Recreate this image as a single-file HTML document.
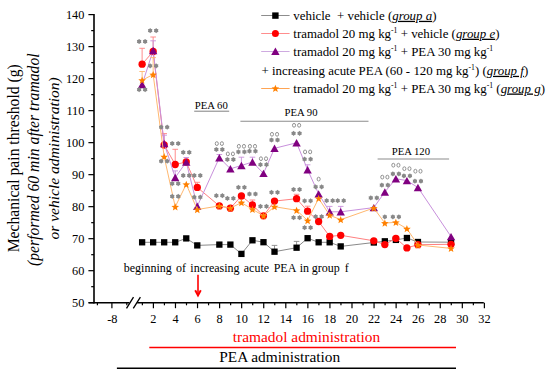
<!DOCTYPE html><html><head><meta charset="utf-8"><style>html,body{margin:0;padding:0;background:#fff;width:550px;height:376px;overflow:hidden}svg{display:block}</style></head><body>
<svg width="550" height="376" viewBox="0 0 550 376" style="font-family:'Liberation Serif',serif">
<rect width="550" height="376" fill="#fff"/>
<path d="M94.0,14.01V303.5" stroke="#000" stroke-width="1.6" fill="none"/>
<path d="M88.6,302.7H129.5M137.2,302.7H483.8" stroke="#000" stroke-width="1.6" fill="none"/>
<path d="M126.5,308.4L133.5,297.2M133.3,308.4L140.4,297.2" stroke="#000" stroke-width="1.3" fill="none"/>
<path d="M88.4,302.70H94.0" stroke="#000" stroke-width="1.2"/>
<text x="84.4" y="307.00" font-size="12.3" text-anchor="end">50</text>
<path d="M88.4,270.69H94.0" stroke="#000" stroke-width="1.2"/>
<text x="84.4" y="274.99" font-size="12.3" text-anchor="end">60</text>
<path d="M88.4,238.68H94.0" stroke="#000" stroke-width="1.2"/>
<text x="84.4" y="242.98" font-size="12.3" text-anchor="end">70</text>
<path d="M88.4,206.67H94.0" stroke="#000" stroke-width="1.2"/>
<text x="84.4" y="210.97" font-size="12.3" text-anchor="end">80</text>
<path d="M88.4,174.66H94.0" stroke="#000" stroke-width="1.2"/>
<text x="84.4" y="178.96" font-size="12.3" text-anchor="end">90</text>
<path d="M88.4,142.65H94.0" stroke="#000" stroke-width="1.2"/>
<text x="84.4" y="146.95" font-size="12.3" text-anchor="end">100</text>
<path d="M88.4,110.64H94.0" stroke="#000" stroke-width="1.2"/>
<text x="84.4" y="114.94" font-size="12.3" text-anchor="end">110</text>
<path d="M88.4,78.63H94.0" stroke="#000" stroke-width="1.2"/>
<text x="84.4" y="82.93" font-size="12.3" text-anchor="end">120</text>
<path d="M88.4,46.62H94.0" stroke="#000" stroke-width="1.2"/>
<text x="84.4" y="50.92" font-size="12.3" text-anchor="end">130</text>
<path d="M88.4,14.61H94.0" stroke="#000" stroke-width="1.2"/>
<text x="84.4" y="18.91" font-size="12.3" text-anchor="end">140</text>
<path d="M91.2,286.69H94.0" stroke="#000" stroke-width="1.2"/>
<path d="M91.2,254.69H94.0" stroke="#000" stroke-width="1.2"/>
<path d="M91.2,222.67H94.0" stroke="#000" stroke-width="1.2"/>
<path d="M91.2,190.66H94.0" stroke="#000" stroke-width="1.2"/>
<path d="M91.2,158.65H94.0" stroke="#000" stroke-width="1.2"/>
<path d="M91.2,126.64H94.0" stroke="#000" stroke-width="1.2"/>
<path d="M91.2,94.63H94.0" stroke="#000" stroke-width="1.2"/>
<path d="M91.2,62.62H94.0" stroke="#000" stroke-width="1.2"/>
<path d="M91.2,30.62H94.0" stroke="#000" stroke-width="1.2"/>
<path d="M111.90,302.7V308.2" stroke="#000" stroke-width="1.2"/>
<path d="M153.40,302.7V308.2" stroke="#000" stroke-width="1.2"/>
<path d="M175.47,302.7V308.2" stroke="#000" stroke-width="1.2"/>
<path d="M197.53,302.7V308.2" stroke="#000" stroke-width="1.2"/>
<path d="M219.60,302.7V308.2" stroke="#000" stroke-width="1.2"/>
<path d="M241.66,302.7V308.2" stroke="#000" stroke-width="1.2"/>
<path d="M263.73,302.7V308.2" stroke="#000" stroke-width="1.2"/>
<path d="M285.80,302.7V308.2" stroke="#000" stroke-width="1.2"/>
<path d="M307.86,302.7V308.2" stroke="#000" stroke-width="1.2"/>
<path d="M329.93,302.7V308.2" stroke="#000" stroke-width="1.2"/>
<path d="M351.99,302.7V308.2" stroke="#000" stroke-width="1.2"/>
<path d="M374.06,302.7V308.2" stroke="#000" stroke-width="1.2"/>
<path d="M396.13,302.7V308.2" stroke="#000" stroke-width="1.2"/>
<path d="M418.19,302.7V308.2" stroke="#000" stroke-width="1.2"/>
<path d="M440.26,302.7V308.2" stroke="#000" stroke-width="1.2"/>
<path d="M462.32,302.7V308.2" stroke="#000" stroke-width="1.2"/>
<path d="M484.39,302.7V308.2" stroke="#000" stroke-width="1.2"/>
<path d="M97.40,302.7V305.3" stroke="#000" stroke-width="1.2"/>
<path d="M126.80,302.7V305.3" stroke="#000" stroke-width="1.2"/>
<path d="M142.37,302.7V305.3" stroke="#000" stroke-width="1.2"/>
<path d="M164.43,302.7V305.3" stroke="#000" stroke-width="1.2"/>
<path d="M186.50,302.7V305.3" stroke="#000" stroke-width="1.2"/>
<path d="M208.56,302.7V305.3" stroke="#000" stroke-width="1.2"/>
<path d="M230.63,302.7V305.3" stroke="#000" stroke-width="1.2"/>
<path d="M252.70,302.7V305.3" stroke="#000" stroke-width="1.2"/>
<path d="M274.76,302.7V305.3" stroke="#000" stroke-width="1.2"/>
<path d="M296.83,302.7V305.3" stroke="#000" stroke-width="1.2"/>
<path d="M318.89,302.7V305.3" stroke="#000" stroke-width="1.2"/>
<path d="M340.96,302.7V305.3" stroke="#000" stroke-width="1.2"/>
<path d="M363.03,302.7V305.3" stroke="#000" stroke-width="1.2"/>
<path d="M385.09,302.7V305.3" stroke="#000" stroke-width="1.2"/>
<path d="M407.16,302.7V305.3" stroke="#000" stroke-width="1.2"/>
<path d="M429.23,302.7V305.3" stroke="#000" stroke-width="1.2"/>
<path d="M451.29,302.7V305.3" stroke="#000" stroke-width="1.2"/>
<path d="M473.36,302.7V305.3" stroke="#000" stroke-width="1.2"/>
<text x="112.3" y="322.6" font-size="12.3" text-anchor="middle">-8</text>
<text x="153.40" y="322.6" font-size="12.3" text-anchor="middle">2</text>
<text x="175.47" y="322.6" font-size="12.3" text-anchor="middle">4</text>
<text x="197.53" y="322.6" font-size="12.3" text-anchor="middle">6</text>
<text x="219.60" y="322.6" font-size="12.3" text-anchor="middle">8</text>
<text x="241.66" y="322.6" font-size="12.3" text-anchor="middle">10</text>
<text x="263.73" y="322.6" font-size="12.3" text-anchor="middle">12</text>
<text x="285.80" y="322.6" font-size="12.3" text-anchor="middle">14</text>
<text x="307.86" y="322.6" font-size="12.3" text-anchor="middle">16</text>
<text x="329.93" y="322.6" font-size="12.3" text-anchor="middle">18</text>
<text x="351.99" y="322.6" font-size="12.3" text-anchor="middle">20</text>
<text x="374.06" y="322.6" font-size="12.3" text-anchor="middle">22</text>
<text x="396.13" y="322.6" font-size="12.3" text-anchor="middle">24</text>
<text x="418.19" y="322.6" font-size="12.3" text-anchor="middle">26</text>
<text x="440.26" y="322.6" font-size="12.3" text-anchor="middle">28</text>
<text x="462.32" y="322.6" font-size="12.3" text-anchor="middle">30</text>
<text x="484.39" y="322.6" font-size="12.3" text-anchor="middle">32</text>
<text transform="translate(19.1,158.3) rotate(-90)" font-size="15.65" text-anchor="middle">Mechanical pain threshold (g)</text>
<text transform="translate(38.8,159.7) rotate(-90)" font-size="15.69" font-style="italic" text-anchor="middle">(performed 60 min after tramadol</text>
<text transform="translate(58.7,158.4) rotate(-90)" font-size="15.55" font-style="italic" text-anchor="middle">or vehicle administration)</text>
<text x="194.8" y="108.7" font-size="10.7">PEA 60</text>
<path d="M194.2,111.2H229.2" stroke="#808080" stroke-width="1.0"/>
<text x="284.6" y="116.4" font-size="10.7">PEA 90</text>
<path d="M240.4,121.2H368.5" stroke="#8c8c8c" stroke-width="1.1"/>
<text x="391.7" y="154.7" font-size="10.7">PEA 120</text>
<path d="M377.6,159.0H449.1" stroke="#8c8c8c" stroke-width="1.1"/>
<polyline points="142.12,242.3 153.15,242.3 164.18,242.3 175.22,242.3 186.25,238.4 197.28,245.4 219.35,244.6 230.38,244.6 241.41,253.9 252.45,240.3 263.48,242.2 274.51,251.7 296.58,247.7 307.61,238.2 318.64,242.3 329.68,242.3 340.71,246.4 373.81,242.5 384.84,241.3 395.88,239.9 406.91,238.0 417.94,242.0 451.04,242.2" fill="none" stroke="#8a8a8a" stroke-width="1.0"/>
<path d="M274.51,251.70V245.40M271.71,245.40H277.31" stroke="#8a8a8a" stroke-width="0.9" fill="none"/>
<path d="M296.58,247.70V241.40M293.78,241.40H299.38" stroke="#8a8a8a" stroke-width="0.9" fill="none"/>
<rect x="138.97" y="239.15" width="6.3" height="6.3" fill="#000"/>
<rect x="150.00" y="239.15" width="6.3" height="6.3" fill="#000"/>
<rect x="161.03" y="239.15" width="6.3" height="6.3" fill="#000"/>
<rect x="172.07" y="239.15" width="6.3" height="6.3" fill="#000"/>
<rect x="183.10" y="235.25" width="6.3" height="6.3" fill="#000"/>
<rect x="194.13" y="242.25" width="6.3" height="6.3" fill="#000"/>
<rect x="216.20" y="241.45" width="6.3" height="6.3" fill="#000"/>
<rect x="227.23" y="241.45" width="6.3" height="6.3" fill="#000"/>
<rect x="238.26" y="250.75" width="6.3" height="6.3" fill="#000"/>
<rect x="249.30" y="237.15" width="6.3" height="6.3" fill="#000"/>
<rect x="260.33" y="239.05" width="6.3" height="6.3" fill="#000"/>
<rect x="271.36" y="248.55" width="6.3" height="6.3" fill="#000"/>
<rect x="293.43" y="244.55" width="6.3" height="6.3" fill="#000"/>
<rect x="304.46" y="235.05" width="6.3" height="6.3" fill="#000"/>
<rect x="315.50" y="239.15" width="6.3" height="6.3" fill="#000"/>
<rect x="326.53" y="239.15" width="6.3" height="6.3" fill="#000"/>
<rect x="337.56" y="243.25" width="6.3" height="6.3" fill="#000"/>
<rect x="370.66" y="239.35" width="6.3" height="6.3" fill="#000"/>
<rect x="381.69" y="238.15" width="6.3" height="6.3" fill="#000"/>
<rect x="392.73" y="236.75" width="6.3" height="6.3" fill="#000"/>
<rect x="403.76" y="234.85" width="6.3" height="6.3" fill="#000"/>
<rect x="414.79" y="238.85" width="6.3" height="6.3" fill="#000"/>
<rect x="447.89" y="239.05" width="6.3" height="6.3" fill="#000"/>
<polyline points="142.12,64.2 153.15,51.5 164.18,145.0 175.22,164.5 186.25,162.0 197.28,187.4 219.35,205.9 230.38,208.2 241.41,196.0 252.45,205.0 263.48,215.8 274.51,201.1 296.58,198.7 307.61,211.2 318.64,221.5 329.68,236.4 340.71,235.3 373.81,240.8 384.84,244.6 395.88,238.3 406.91,247.9 417.94,244.7 451.04,244.3" fill="none" stroke="#ff8080" stroke-width="1.0"/>
<path d="M142.12,64.20V48.30M139.32,48.30H144.92" stroke="#ff8080" stroke-width="0.9" fill="none"/>
<path d="M153.15,51.50V37.00M150.35,37.00H155.95" stroke="#ff8080" stroke-width="0.9" fill="none"/>
<path d="M164.18,145.00V133.60M161.38,133.60H166.98" stroke="#ff8080" stroke-width="0.9" fill="none"/>
<path d="M175.22,164.50V149.30M172.42,149.30H178.02" stroke="#ff8080" stroke-width="0.9" fill="none"/>
<path d="M197.28,187.40V182.30M194.48,182.30H200.08" stroke="#ff8080" stroke-width="0.9" fill="none"/>
<path d="M252.45,205.00V200.00M249.65,200.00H255.25" stroke="#ff8080" stroke-width="0.9" fill="none"/>
<path d="M296.58,198.70V194.30M293.78,194.30H299.38" stroke="#ff8080" stroke-width="0.9" fill="none"/>
<path d="M307.61,211.20V206.20M304.81,206.20H310.41" stroke="#ff8080" stroke-width="0.9" fill="none"/>
<circle cx="142.12" cy="64.20" r="3.65" fill="#ff0000"/>
<circle cx="153.15" cy="51.50" r="3.65" fill="#ff0000"/>
<circle cx="164.18" cy="145.00" r="3.65" fill="#ff0000"/>
<circle cx="175.22" cy="164.50" r="3.65" fill="#ff0000"/>
<circle cx="186.25" cy="162.00" r="3.65" fill="#ff0000"/>
<circle cx="197.28" cy="187.40" r="3.65" fill="#ff0000"/>
<circle cx="219.35" cy="205.90" r="3.65" fill="#ff0000"/>
<circle cx="230.38" cy="208.20" r="3.65" fill="#ff0000"/>
<circle cx="241.41" cy="196.00" r="3.65" fill="#ff0000"/>
<circle cx="252.45" cy="205.00" r="3.65" fill="#ff0000"/>
<circle cx="263.48" cy="215.80" r="3.65" fill="#ff0000"/>
<circle cx="274.51" cy="201.10" r="3.65" fill="#ff0000"/>
<circle cx="296.58" cy="198.70" r="3.65" fill="#ff0000"/>
<circle cx="307.61" cy="211.20" r="3.65" fill="#ff0000"/>
<circle cx="318.64" cy="221.50" r="3.65" fill="#ff0000"/>
<circle cx="329.68" cy="236.40" r="3.65" fill="#ff0000"/>
<circle cx="340.71" cy="235.30" r="3.65" fill="#ff0000"/>
<circle cx="373.81" cy="240.80" r="3.65" fill="#ff0000"/>
<circle cx="384.84" cy="244.60" r="3.65" fill="#ff0000"/>
<circle cx="395.88" cy="238.30" r="3.65" fill="#ff0000"/>
<circle cx="406.91" cy="247.90" r="3.65" fill="#ff0000"/>
<circle cx="417.94" cy="244.70" r="3.65" fill="#ff0000"/>
<circle cx="451.04" cy="244.30" r="3.65" fill="#ff0000"/>
<polyline points="142.12,84.5 153.15,50.5 164.18,143.5 175.22,177.5 186.25,162.0 197.28,206.3 219.35,157.7 230.38,168.8 241.41,165.5 252.45,162.0 263.48,173.4 274.51,148.3 296.58,142.8 307.61,169.8 318.64,193.9 329.68,211.8 340.71,211.8 373.81,207.6 384.84,192.0 395.88,178.7 406.91,180.6 417.94,187.5 451.04,236.6" fill="none" stroke="#c890dc" stroke-width="1.0"/>
<path d="M153.15,50.50V40.80M150.35,40.80H155.95" stroke="#c890dc" stroke-width="0.9" fill="none"/>
<path d="M164.18,143.50V135.20M161.38,135.20H166.98" stroke="#c890dc" stroke-width="0.9" fill="none"/>
<path d="M175.22,177.50V170.90M172.42,170.90H178.02" stroke="#c890dc" stroke-width="0.9" fill="none"/>
<path d="M186.25,162.00V157.50M183.45,157.50H189.05" stroke="#c890dc" stroke-width="0.9" fill="none"/>
<path d="M219.35,157.70V154.50M216.55,154.50H222.15" stroke="#c890dc" stroke-width="0.9" fill="none"/>
<path d="M241.41,165.50V157.20M238.61,157.20H244.21" stroke="#c890dc" stroke-width="0.9" fill="none"/>
<path d="M252.45,162.00V157.20M249.65,157.20H255.25" stroke="#c890dc" stroke-width="0.9" fill="none"/>
<path d="M307.61,169.80V164.80M304.81,164.80H310.41" stroke="#c890dc" stroke-width="0.9" fill="none"/>
<path d="M329.68,211.80V206.40M326.88,206.40H332.48" stroke="#c890dc" stroke-width="0.9" fill="none"/>
<path d="M340.71,211.80V206.40M337.91,206.40H343.51" stroke="#c890dc" stroke-width="0.9" fill="none"/>
<path d="M137.92,88.20 L146.32,88.20 L142.12,80.80 Z" fill="#800080"/>
<path d="M148.95,54.20 L157.35,54.20 L153.15,46.80 Z" fill="#800080"/>
<path d="M159.98,147.20 L168.38,147.20 L164.18,139.80 Z" fill="#800080"/>
<path d="M171.02,181.20 L179.42,181.20 L175.22,173.80 Z" fill="#800080"/>
<path d="M182.05,165.70 L190.45,165.70 L186.25,158.30 Z" fill="#800080"/>
<path d="M193.08,210.00 L201.48,210.00 L197.28,202.60 Z" fill="#800080"/>
<path d="M215.15,161.40 L223.55,161.40 L219.35,154.00 Z" fill="#800080"/>
<path d="M226.18,172.50 L234.58,172.50 L230.38,165.10 Z" fill="#800080"/>
<path d="M237.21,169.20 L245.61,169.20 L241.41,161.80 Z" fill="#800080"/>
<path d="M248.25,165.70 L256.65,165.70 L252.45,158.30 Z" fill="#800080"/>
<path d="M259.28,177.10 L267.68,177.10 L263.48,169.70 Z" fill="#800080"/>
<path d="M270.31,152.00 L278.71,152.00 L274.51,144.60 Z" fill="#800080"/>
<path d="M292.38,146.50 L300.78,146.50 L296.58,139.10 Z" fill="#800080"/>
<path d="M303.41,173.50 L311.81,173.50 L307.61,166.10 Z" fill="#800080"/>
<path d="M314.44,197.60 L322.84,197.60 L318.64,190.20 Z" fill="#800080"/>
<path d="M325.48,215.50 L333.88,215.50 L329.68,208.10 Z" fill="#800080"/>
<path d="M336.51,215.50 L344.91,215.50 L340.71,208.10 Z" fill="#800080"/>
<path d="M369.61,211.30 L378.01,211.30 L373.81,203.90 Z" fill="#800080"/>
<path d="M380.64,195.70 L389.04,195.70 L384.84,188.30 Z" fill="#800080"/>
<path d="M391.68,182.40 L400.08,182.40 L395.88,175.00 Z" fill="#800080"/>
<path d="M402.71,184.30 L411.11,184.30 L406.91,176.90 Z" fill="#800080"/>
<path d="M413.74,191.20 L422.14,191.20 L417.94,183.80 Z" fill="#800080"/>
<path d="M446.84,240.30 L455.24,240.30 L451.04,232.90 Z" fill="#800080"/>
<polyline points="142.12,80.2 153.15,74.5 164.18,156.7 175.22,206.8 186.25,184.3 197.28,209.5 219.35,205.9 230.38,208.2 241.41,202.6 252.45,209.3 263.48,215.8 274.51,206.7 296.58,210.3 307.61,220.5 318.64,198.4 329.68,215.2 340.71,219.7 373.81,208.0 384.84,223.1 395.88,222.3 406.91,228.7 417.94,245.0 451.04,248.4" fill="none" stroke="#ffb870" stroke-width="1.0"/>
<path d="M142.12,80.20V71.50M139.32,71.50H144.92" stroke="#ffb870" stroke-width="0.9" fill="none"/>
<path d="M153.15,74.50V57.60M150.35,57.60H155.95" stroke="#ffb870" stroke-width="0.9" fill="none"/>
<polygon points="142.12,76.60 143.15,79.18 145.92,79.36 143.78,81.14 144.47,83.84 142.12,82.35 139.77,83.84 140.45,81.14 138.31,79.36 141.09,79.18" fill="#ff8000"/>
<polygon points="153.15,70.90 154.18,73.48 156.95,73.66 154.81,75.44 155.50,78.14 153.15,76.65 150.80,78.14 151.49,75.44 149.35,73.66 152.12,73.48" fill="#ff8000"/>
<polygon points="164.18,153.10 165.21,155.68 167.99,155.86 165.85,157.64 166.53,160.34 164.18,158.85 161.83,160.34 162.52,157.64 160.38,155.86 163.15,155.68" fill="#ff8000"/>
<polygon points="175.22,203.20 176.24,205.78 179.02,205.96 176.88,207.74 177.57,210.44 175.22,208.95 172.86,210.44 173.55,207.74 171.41,205.96 174.19,205.78" fill="#ff8000"/>
<polygon points="186.25,180.70 187.28,183.28 190.05,183.46 187.91,185.24 188.60,187.94 186.25,186.45 183.90,187.94 184.58,185.24 182.44,183.46 185.22,183.28" fill="#ff8000"/>
<polygon points="197.28,205.90 198.31,208.48 201.09,208.66 198.95,210.44 199.63,213.14 197.28,211.65 194.93,213.14 195.62,210.44 193.48,208.66 196.25,208.48" fill="#ff8000"/>
<polygon points="219.35,202.30 220.38,204.88 223.15,205.06 221.01,206.84 221.70,209.54 219.35,208.05 217.00,209.54 217.68,206.84 215.54,205.06 218.32,204.88" fill="#ff8000"/>
<polygon points="230.38,204.60 231.41,207.18 234.19,207.36 232.05,209.14 232.73,211.84 230.38,210.35 228.03,211.84 228.72,209.14 226.58,207.36 229.35,207.18" fill="#ff8000"/>
<polygon points="241.41,199.00 242.44,201.58 245.22,201.76 243.08,203.54 243.77,206.24 241.41,204.75 239.06,206.24 239.75,203.54 237.61,201.76 240.39,201.58" fill="#ff8000"/>
<polygon points="252.45,205.70 253.48,208.28 256.25,208.46 254.11,210.24 254.80,212.94 252.45,211.45 250.10,212.94 250.78,210.24 248.64,208.46 251.42,208.28" fill="#ff8000"/>
<polygon points="263.48,212.20 264.51,214.78 267.28,214.96 265.14,216.74 265.83,219.44 263.48,217.95 261.13,219.44 261.82,216.74 259.68,214.96 262.45,214.78" fill="#ff8000"/>
<polygon points="274.51,203.10 275.54,205.68 278.32,205.86 276.18,207.64 276.86,210.34 274.51,208.85 272.16,210.34 272.85,207.64 270.71,205.86 273.48,205.68" fill="#ff8000"/>
<polygon points="296.58,206.70 297.61,209.28 300.38,209.46 298.24,211.24 298.93,213.94 296.58,212.45 294.23,213.94 294.91,211.24 292.77,209.46 295.55,209.28" fill="#ff8000"/>
<polygon points="307.61,216.90 308.64,219.48 311.42,219.66 309.28,221.44 309.96,224.14 307.61,222.65 305.26,224.14 305.95,221.44 303.81,219.66 306.58,219.48" fill="#ff8000"/>
<polygon points="318.64,194.80 319.67,197.38 322.45,197.56 320.31,199.34 321.00,202.04 318.64,200.55 316.29,202.04 316.98,199.34 314.84,197.56 317.62,197.38" fill="#ff8000"/>
<polygon points="329.68,211.60 330.71,214.18 333.48,214.36 331.34,216.14 332.03,218.84 329.68,217.35 327.33,218.84 328.01,216.14 325.87,214.36 328.65,214.18" fill="#ff8000"/>
<polygon points="340.71,216.10 341.74,218.68 344.52,218.86 342.38,220.64 343.06,223.34 340.71,221.85 338.36,223.34 339.05,220.64 336.91,218.86 339.68,218.68" fill="#ff8000"/>
<polygon points="373.81,204.40 374.84,206.98 377.61,207.16 375.47,208.94 376.16,211.64 373.81,210.15 371.46,211.64 372.15,208.94 370.01,207.16 372.78,206.98" fill="#ff8000"/>
<polygon points="384.84,219.50 385.87,222.08 388.65,222.26 386.51,224.04 387.19,226.74 384.84,225.25 382.49,226.74 383.18,224.04 381.04,222.26 383.81,222.08" fill="#ff8000"/>
<polygon points="395.88,218.70 396.90,221.28 399.68,221.46 397.54,223.24 398.23,225.94 395.88,224.45 393.52,225.94 394.21,223.24 392.07,221.46 394.85,221.28" fill="#ff8000"/>
<polygon points="406.91,225.10 407.94,227.68 410.71,227.86 408.57,229.64 409.26,232.34 406.91,230.85 404.56,232.34 405.24,229.64 403.10,227.86 405.88,227.68" fill="#ff8000"/>
<polygon points="417.94,241.40 418.97,243.98 421.75,244.16 419.61,245.94 420.29,248.64 417.94,247.15 415.59,248.64 416.28,245.94 414.14,244.16 416.91,243.98" fill="#ff8000"/>
<polygon points="451.04,244.80 452.07,247.38 454.85,247.56 452.71,249.34 453.39,252.04 451.04,250.55 448.69,252.04 449.38,249.34 447.24,247.56 450.01,247.38" fill="#ff8000"/>
<polygon points="139.12,38.90 140.07,39.85 141.37,40.20 141.02,41.50 141.37,42.80 140.07,43.15 139.12,44.10 138.17,43.15 136.87,42.80 137.22,41.50 136.87,40.20 138.17,39.85" fill="#888888"/>
<polygon points="145.12,38.90 146.07,39.85 147.37,40.20 147.02,41.50 147.37,42.80 146.07,43.15 145.12,44.10 144.17,43.15 142.87,42.80 143.22,41.50 142.87,40.20 144.17,39.85" fill="#888888"/>
<polygon points="139.12,87.00 140.07,87.95 141.37,88.30 141.02,89.60 141.37,90.90 140.07,91.25 139.12,92.20 138.17,91.25 136.87,90.90 137.22,89.60 136.87,88.30 138.17,87.95" fill="#888888"/>
<polygon points="145.12,87.00 146.07,87.95 147.37,88.30 147.02,89.60 147.37,90.90 146.07,91.25 145.12,92.20 144.17,91.25 142.87,90.90 143.22,89.60 142.87,88.30 144.17,87.95" fill="#888888"/>
<polygon points="150.15,28.00 151.10,28.95 152.40,29.30 152.05,30.60 152.40,31.90 151.10,32.25 150.15,33.20 149.20,32.25 147.90,31.90 148.25,30.60 147.90,29.30 149.20,28.95" fill="#888888"/>
<polygon points="156.15,28.00 157.10,28.95 158.40,29.30 158.05,30.60 158.40,31.90 157.10,32.25 156.15,33.20 155.20,32.25 153.90,31.90 154.25,30.60 153.90,29.30 155.20,28.95" fill="#888888"/>
<polygon points="150.15,63.20 151.10,64.15 152.40,64.50 152.05,65.80 152.40,67.10 151.10,67.45 150.15,68.40 149.20,67.45 147.90,67.10 148.25,65.80 147.90,64.50 149.20,64.15" fill="#888888"/>
<polygon points="156.15,63.20 157.10,64.15 158.40,64.50 158.05,65.80 158.40,67.10 157.10,67.45 156.15,68.40 155.20,67.45 153.90,67.10 154.25,65.80 153.90,64.50 155.20,64.15" fill="#888888"/>
<polygon points="161.18,124.60 162.13,125.55 163.43,125.90 163.08,127.20 163.43,128.50 162.13,128.85 161.18,129.80 160.23,128.85 158.93,128.50 159.28,127.20 158.93,125.90 160.23,125.55" fill="#888888"/>
<polygon points="167.18,124.60 168.13,125.55 169.43,125.90 169.08,127.20 169.43,128.50 168.13,128.85 167.18,129.80 166.23,128.85 164.93,128.50 165.28,127.20 164.93,125.90 166.23,125.55" fill="#888888"/>
<polygon points="161.18,158.60 162.13,159.55 163.43,159.90 163.08,161.20 163.43,162.50 162.13,162.85 161.18,163.80 160.23,162.85 158.93,162.50 159.28,161.20 158.93,159.90 160.23,159.55" fill="#888888"/>
<polygon points="167.18,158.60 168.13,159.55 169.43,159.90 169.08,161.20 169.43,162.50 168.13,162.85 167.18,163.80 166.23,162.85 164.93,162.50 165.28,161.20 164.93,159.90 166.23,159.55" fill="#888888"/>
<polygon points="172.22,140.90 173.17,141.85 174.47,142.20 174.12,143.50 174.47,144.80 173.17,145.15 172.22,146.10 171.27,145.15 169.96,144.80 170.32,143.50 169.96,142.20 171.27,141.85" fill="#888888"/>
<polygon points="178.22,140.90 179.17,141.85 180.47,142.20 180.12,143.50 180.47,144.80 179.17,145.15 178.22,146.10 177.27,145.15 175.96,144.80 176.32,143.50 175.96,142.20 177.27,141.85" fill="#888888"/>
<polygon points="172.22,181.00 173.17,181.95 174.47,182.30 174.12,183.60 174.47,184.90 173.17,185.25 172.22,186.20 171.27,185.25 169.96,184.90 170.32,183.60 169.96,182.30 171.27,181.95" fill="#888888"/>
<polygon points="178.22,181.00 179.17,181.95 180.47,182.30 180.12,183.60 180.47,184.90 179.17,185.25 178.22,186.20 177.27,185.25 175.96,184.90 176.32,183.60 175.96,182.30 177.27,181.95" fill="#888888"/>
<polygon points="172.22,193.80 173.17,194.75 174.47,195.10 174.12,196.40 174.47,197.70 173.17,198.05 172.22,199.00 171.27,198.05 169.96,197.70 170.32,196.40 169.96,195.10 171.27,194.75" fill="#888888"/>
<polygon points="178.22,193.80 179.17,194.75 180.47,195.10 180.12,196.40 180.47,197.70 179.17,198.05 178.22,199.00 177.27,198.05 175.96,197.70 176.32,196.40 175.96,195.10 177.27,194.75" fill="#888888"/>
<polygon points="183.25,149.80 184.20,150.75 185.50,151.10 185.15,152.40 185.50,153.70 184.20,154.05 183.25,155.00 182.30,154.05 181.00,153.70 181.35,152.40 181.00,151.10 182.30,150.75" fill="#888888"/>
<polygon points="189.25,149.80 190.20,150.75 191.50,151.10 191.15,152.40 191.50,153.70 190.20,154.05 189.25,155.00 188.30,154.05 187.00,153.70 187.35,152.40 187.00,151.10 188.30,150.75" fill="#888888"/>
<polygon points="183.25,172.90 184.20,173.85 185.50,174.20 185.15,175.50 185.50,176.80 184.20,177.15 183.25,178.10 182.30,177.15 181.00,176.80 181.35,175.50 181.00,174.20 182.30,173.85" fill="#888888"/>
<polygon points="189.25,172.90 190.20,173.85 191.50,174.20 191.15,175.50 191.50,176.80 190.20,177.15 189.25,178.10 188.30,177.15 187.00,176.80 187.35,175.50 187.00,174.20 188.30,173.85" fill="#888888"/>
<polygon points="194.28,172.90 195.23,173.85 196.53,174.20 196.18,175.50 196.53,176.80 195.23,177.15 194.28,178.10 193.33,177.15 192.03,176.80 192.38,175.50 192.03,174.20 193.33,173.85" fill="#888888"/>
<polygon points="200.28,172.90 201.23,173.85 202.53,174.20 202.18,175.50 202.53,176.80 201.23,177.15 200.28,178.10 199.33,177.15 198.03,176.80 198.38,175.50 198.03,174.20 199.33,173.85" fill="#888888"/>
<polygon points="194.28,194.60 195.23,195.55 196.53,195.90 196.18,197.20 196.53,198.50 195.23,198.85 194.28,199.80 193.33,198.85 192.03,198.50 192.38,197.20 192.03,195.90 193.33,195.55" fill="#888888"/>
<polygon points="200.28,194.60 201.23,195.55 202.53,195.90 202.18,197.20 202.53,198.50 201.23,198.85 200.28,199.80 199.33,198.85 198.03,198.50 198.38,197.20 198.03,195.90 199.33,195.55" fill="#888888"/>
<polygon points="216.35,146.90 217.30,147.85 218.60,148.20 218.25,149.50 218.60,150.80 217.30,151.15 216.35,152.10 215.40,151.15 214.10,150.80 214.45,149.50 214.10,148.20 215.40,147.85" fill="#888888"/>
<polygon points="222.35,146.90 223.30,147.85 224.60,148.20 224.25,149.50 224.60,150.80 223.30,151.15 222.35,152.10 221.40,151.15 220.10,150.80 220.45,149.50 220.10,148.20 221.40,147.85" fill="#888888"/>
<ellipse cx="216.80" cy="143.60" rx="1.55" ry="1.9" fill="none" stroke="#808080" stroke-width="0.85"/>
<ellipse cx="221.90" cy="143.60" rx="1.55" ry="1.9" fill="none" stroke="#808080" stroke-width="0.85"/>
<polygon points="216.35,193.10 217.30,194.05 218.60,194.40 218.25,195.70 218.60,197.00 217.30,197.35 216.35,198.30 215.40,197.35 214.10,197.00 214.45,195.70 214.10,194.40 215.40,194.05" fill="#888888"/>
<polygon points="222.35,193.10 223.30,194.05 224.60,194.40 224.25,195.70 224.60,197.00 223.30,197.35 222.35,198.30 221.40,197.35 220.10,197.00 220.45,195.70 220.10,194.40 221.40,194.05" fill="#888888"/>
<polygon points="227.38,156.90 228.33,157.85 229.63,158.20 229.28,159.50 229.63,160.80 228.33,161.15 227.38,162.10 226.43,161.15 225.13,160.80 225.48,159.50 225.13,158.20 226.43,157.85" fill="#888888"/>
<polygon points="233.38,156.90 234.33,157.85 235.63,158.20 235.28,159.50 235.63,160.80 234.33,161.15 233.38,162.10 232.43,161.15 231.13,160.80 231.48,159.50 231.13,158.20 232.43,157.85" fill="#888888"/>
<ellipse cx="227.83" cy="153.90" rx="1.55" ry="1.9" fill="none" stroke="#808080" stroke-width="0.85"/>
<ellipse cx="232.93" cy="153.90" rx="1.55" ry="1.9" fill="none" stroke="#808080" stroke-width="0.85"/>
<polygon points="227.38,195.80 228.33,196.75 229.63,197.10 229.28,198.40 229.63,199.70 228.33,200.05 227.38,201.00 226.43,200.05 225.13,199.70 225.48,198.40 225.13,197.10 226.43,196.75" fill="#888888"/>
<polygon points="233.38,195.80 234.33,196.75 235.63,197.10 235.28,198.40 235.63,199.70 234.33,200.05 233.38,201.00 232.43,200.05 231.13,199.70 231.48,198.40 231.13,197.10 232.43,196.75" fill="#888888"/>
<polygon points="238.41,149.30 239.36,150.25 240.67,150.60 240.31,151.90 240.67,153.20 239.36,153.55 238.41,154.50 237.46,153.55 236.16,153.20 236.51,151.90 236.16,150.60 237.46,150.25" fill="#888888"/>
<polygon points="244.41,149.30 245.36,150.25 246.67,150.60 246.31,151.90 246.67,153.20 245.36,153.55 244.41,154.50 243.46,153.55 242.16,153.20 242.51,151.90 242.16,150.60 243.46,150.25" fill="#888888"/>
<ellipse cx="238.86" cy="146.30" rx="1.55" ry="1.9" fill="none" stroke="#808080" stroke-width="0.85"/>
<ellipse cx="243.96" cy="146.30" rx="1.55" ry="1.9" fill="none" stroke="#808080" stroke-width="0.85"/>
<polygon points="238.41,184.70 239.36,185.65 240.67,186.00 240.31,187.30 240.67,188.60 239.36,188.95 238.41,189.90 237.46,188.95 236.16,188.60 236.51,187.30 236.16,186.00 237.46,185.65" fill="#888888"/>
<polygon points="244.41,184.70 245.36,185.65 246.67,186.00 246.31,187.30 246.67,188.60 245.36,188.95 244.41,189.90 243.46,188.95 242.16,188.60 242.51,187.30 242.16,186.00 243.46,185.65" fill="#888888"/>
<polygon points="249.45,148.60 250.40,149.55 251.70,149.90 251.35,151.20 251.70,152.50 250.40,152.85 249.45,153.80 248.50,152.85 247.20,152.50 247.55,151.20 247.20,149.90 248.50,149.55" fill="#888888"/>
<polygon points="255.45,148.60 256.40,149.55 257.70,149.90 257.35,151.20 257.70,152.50 256.40,152.85 255.45,153.80 254.50,152.85 253.20,152.50 253.55,151.20 253.20,149.90 254.50,149.55" fill="#888888"/>
<ellipse cx="249.90" cy="146.30" rx="1.55" ry="1.9" fill="none" stroke="#808080" stroke-width="0.85"/>
<ellipse cx="255.00" cy="146.30" rx="1.55" ry="1.9" fill="none" stroke="#808080" stroke-width="0.85"/>
<polygon points="249.45,191.40 250.40,192.35 251.70,192.70 251.35,194.00 251.70,195.30 250.40,195.65 249.45,196.60 248.50,195.65 247.20,195.30 247.55,194.00 247.20,192.70 248.50,192.35" fill="#888888"/>
<polygon points="255.45,191.40 256.40,192.35 257.70,192.70 257.35,194.00 257.70,195.30 256.40,195.65 255.45,196.60 254.50,195.65 253.20,195.30 253.55,194.00 253.20,192.70 254.50,192.35" fill="#888888"/>
<polygon points="260.48,162.10 261.43,163.05 262.73,163.40 262.38,164.70 262.73,166.00 261.43,166.35 260.48,167.30 259.53,166.35 258.23,166.00 258.58,164.70 258.23,163.40 259.53,163.05" fill="#888888"/>
<polygon points="266.48,162.10 267.43,163.05 268.73,163.40 268.38,164.70 268.73,166.00 267.43,166.35 266.48,167.30 265.53,166.35 264.23,166.00 264.58,164.70 264.23,163.40 265.53,163.05" fill="#888888"/>
<ellipse cx="260.93" cy="158.70" rx="1.55" ry="1.9" fill="none" stroke="#808080" stroke-width="0.85"/>
<ellipse cx="266.03" cy="158.70" rx="1.55" ry="1.9" fill="none" stroke="#808080" stroke-width="0.85"/>
<polygon points="260.48,203.80 261.43,204.75 262.73,205.10 262.38,206.40 262.73,207.70 261.43,208.05 260.48,209.00 259.53,208.05 258.23,207.70 258.58,206.40 258.23,205.10 259.53,204.75" fill="#888888"/>
<polygon points="266.48,203.80 267.43,204.75 268.73,205.10 268.38,206.40 268.73,207.70 267.43,208.05 266.48,209.00 265.53,208.05 264.23,207.70 264.58,206.40 264.23,205.10 265.53,204.75" fill="#888888"/>
<polygon points="271.51,137.40 272.46,138.35 273.76,138.70 273.41,140.00 273.76,141.30 272.46,141.65 271.51,142.60 270.56,141.65 269.26,141.30 269.61,140.00 269.26,138.70 270.56,138.35" fill="#888888"/>
<polygon points="277.51,137.40 278.46,138.35 279.76,138.70 279.41,140.00 279.76,141.30 278.46,141.65 277.51,142.60 276.56,141.65 275.26,141.30 275.61,140.00 275.26,138.70 276.56,138.35" fill="#888888"/>
<ellipse cx="271.96" cy="134.30" rx="1.55" ry="1.9" fill="none" stroke="#808080" stroke-width="0.85"/>
<ellipse cx="277.06" cy="134.30" rx="1.55" ry="1.9" fill="none" stroke="#808080" stroke-width="0.85"/>
<polygon points="271.51,189.70 272.46,190.65 273.76,191.00 273.41,192.30 273.76,193.60 272.46,193.95 271.51,194.90 270.56,193.95 269.26,193.60 269.61,192.30 269.26,191.00 270.56,190.65" fill="#888888"/>
<polygon points="277.51,189.70 278.46,190.65 279.76,191.00 279.41,192.30 279.76,193.60 278.46,193.95 277.51,194.90 276.56,193.95 275.26,193.60 275.61,192.30 275.26,191.00 276.56,190.65" fill="#888888"/>
<polygon points="293.58,130.70 294.53,131.65 295.83,132.00 295.48,133.30 295.83,134.60 294.53,134.95 293.58,135.90 292.63,134.95 291.33,134.60 291.68,133.30 291.33,132.00 292.63,131.65" fill="#888888"/>
<polygon points="299.58,130.70 300.53,131.65 301.83,132.00 301.48,133.30 301.83,134.60 300.53,134.95 299.58,135.90 298.63,134.95 297.33,134.60 297.68,133.30 297.33,132.00 298.63,131.65" fill="#888888"/>
<ellipse cx="294.03" cy="125.30" rx="1.55" ry="1.9" fill="none" stroke="#808080" stroke-width="0.85"/>
<ellipse cx="299.13" cy="125.30" rx="1.55" ry="1.9" fill="none" stroke="#808080" stroke-width="0.85"/>
<polygon points="293.58,186.90 294.53,187.85 295.83,188.20 295.48,189.50 295.83,190.80 294.53,191.15 293.58,192.10 292.63,191.15 291.33,190.80 291.68,189.50 291.33,188.20 292.63,187.85" fill="#888888"/>
<polygon points="299.58,186.90 300.53,187.85 301.83,188.20 301.48,189.50 301.83,190.80 300.53,191.15 299.58,192.10 298.63,191.15 297.33,190.80 297.68,189.50 297.33,188.20 298.63,187.85" fill="#888888"/>
<polygon points="293.58,215.00 294.53,215.95 295.83,216.30 295.48,217.60 295.83,218.90 294.53,219.25 293.58,220.20 292.63,219.25 291.33,218.90 291.68,217.60 291.33,216.30 292.63,215.95" fill="#888888"/>
<polygon points="299.58,215.00 300.53,215.95 301.83,216.30 301.48,217.60 301.83,218.90 300.53,219.25 299.58,220.20 298.63,219.25 297.33,218.90 297.68,217.60 297.33,216.30 298.63,215.95" fill="#888888"/>
<polygon points="304.61,156.60 305.56,157.55 306.86,157.90 306.51,159.20 306.86,160.50 305.56,160.85 304.61,161.80 303.66,160.85 302.36,160.50 302.71,159.20 302.36,157.90 303.66,157.55" fill="#888888"/>
<polygon points="310.61,156.60 311.56,157.55 312.86,157.90 312.51,159.20 312.86,160.50 311.56,160.85 310.61,161.80 309.66,160.85 308.36,160.50 308.71,159.20 308.36,157.90 309.66,157.55" fill="#888888"/>
<ellipse cx="305.06" cy="151.90" rx="1.55" ry="1.9" fill="none" stroke="#808080" stroke-width="0.85"/>
<ellipse cx="310.16" cy="151.90" rx="1.55" ry="1.9" fill="none" stroke="#808080" stroke-width="0.85"/>
<polygon points="304.61,198.20 305.56,199.15 306.86,199.50 306.51,200.80 306.86,202.10 305.56,202.45 304.61,203.40 303.66,202.45 302.36,202.10 302.71,200.80 302.36,199.50 303.66,199.15" fill="#888888"/>
<polygon points="310.61,198.20 311.56,199.15 312.86,199.50 312.51,200.80 312.86,202.10 311.56,202.45 310.61,203.40 309.66,202.45 308.36,202.10 308.71,200.80 308.36,199.50 309.66,199.15" fill="#888888"/>
<polygon points="304.61,225.00 305.56,225.95 306.86,226.30 306.51,227.60 306.86,228.90 305.56,229.25 304.61,230.20 303.66,229.25 302.36,228.90 302.71,227.60 302.36,226.30 303.66,225.95" fill="#888888"/>
<polygon points="310.61,225.00 311.56,225.95 312.86,226.30 312.51,227.60 312.86,228.90 311.56,229.25 310.61,230.20 309.66,229.25 308.36,228.90 308.71,227.60 308.36,226.30 309.66,225.95" fill="#888888"/>
<polygon points="315.64,184.20 316.59,185.15 317.90,185.50 317.54,186.80 317.90,188.10 316.59,188.45 315.64,189.40 314.69,188.45 313.39,188.10 313.75,186.80 313.39,185.50 314.69,185.15" fill="#888888"/>
<polygon points="321.64,184.20 322.59,185.15 323.90,185.50 323.54,186.80 323.90,188.10 322.59,188.45 321.64,189.40 320.69,188.45 319.39,188.10 319.75,186.80 319.39,185.50 320.69,185.15" fill="#888888"/>
<ellipse cx="318.64" cy="179.10" rx="1.55" ry="1.9" fill="none" stroke="#808080" stroke-width="0.85"/>
<polygon points="315.64,214.00 316.59,214.95 317.90,215.30 317.54,216.60 317.90,217.90 316.59,218.25 315.64,219.20 314.69,218.25 313.39,217.90 313.75,216.60 313.39,215.30 314.69,214.95" fill="#888888"/>
<polygon points="321.64,214.00 322.59,214.95 323.90,215.30 323.54,216.60 323.90,217.90 322.59,218.25 321.64,219.20 320.69,218.25 319.39,217.90 319.75,216.60 319.39,215.30 320.69,214.95" fill="#888888"/>
<polygon points="326.68,198.10 327.63,199.05 328.93,199.40 328.58,200.70 328.93,202.00 327.63,202.35 326.68,203.30 325.73,202.35 324.43,202.00 324.78,200.70 324.43,199.40 325.73,199.05" fill="#888888"/>
<polygon points="332.68,198.10 333.63,199.05 334.93,199.40 334.58,200.70 334.93,202.00 333.63,202.35 332.68,203.30 331.73,202.35 330.43,202.00 330.78,200.70 330.43,199.40 331.73,199.05" fill="#888888"/>
<polygon points="337.71,198.10 338.66,199.05 339.96,199.40 339.61,200.70 339.96,202.00 338.66,202.35 337.71,203.30 336.76,202.35 335.46,202.00 335.81,200.70 335.46,199.40 336.76,199.05" fill="#888888"/>
<polygon points="343.71,198.10 344.66,199.05 345.96,199.40 345.61,200.70 345.96,202.00 344.66,202.35 343.71,203.30 342.76,202.35 341.46,202.00 341.81,200.70 341.46,199.40 342.76,199.05" fill="#888888"/>
<polygon points="370.81,195.30 371.76,196.25 373.06,196.60 372.71,197.90 373.06,199.20 371.76,199.55 370.81,200.50 369.86,199.55 368.56,199.20 368.91,197.90 368.56,196.60 369.86,196.25" fill="#888888"/>
<polygon points="376.81,195.30 377.76,196.25 379.06,196.60 378.71,197.90 379.06,199.20 377.76,199.55 376.81,200.50 375.86,199.55 374.56,199.20 374.91,197.90 374.56,196.60 375.86,196.25" fill="#888888"/>
<polygon points="381.84,182.50 382.79,183.45 384.09,183.80 383.74,185.10 384.09,186.40 382.79,186.75 381.84,187.70 380.89,186.75 379.59,186.40 379.94,185.10 379.59,183.80 380.89,183.45" fill="#888888"/>
<polygon points="387.84,182.50 388.79,183.45 390.09,183.80 389.74,185.10 390.09,186.40 388.79,186.75 387.84,187.70 386.89,186.75 385.59,186.40 385.94,185.10 385.59,183.80 386.89,183.45" fill="#888888"/>
<ellipse cx="382.29" cy="177.10" rx="1.55" ry="1.9" fill="none" stroke="#808080" stroke-width="0.85"/>
<ellipse cx="387.39" cy="177.10" rx="1.55" ry="1.9" fill="none" stroke="#808080" stroke-width="0.85"/>
<polygon points="384.84,214.20 385.79,215.15 387.09,215.50 386.74,216.80 387.09,218.10 385.79,218.45 384.84,219.40 383.89,218.45 382.59,218.10 382.94,216.80 382.59,215.50 383.89,215.15" fill="#888888"/>
<polygon points="392.88,171.30 393.83,172.25 395.13,172.60 394.78,173.90 395.13,175.20 393.83,175.55 392.88,176.50 391.93,175.55 390.62,175.20 390.98,173.90 390.62,172.60 391.93,172.25" fill="#888888"/>
<polygon points="398.88,171.30 399.83,172.25 401.13,172.60 400.78,173.90 401.13,175.20 399.83,175.55 398.88,176.50 397.93,175.55 396.62,175.20 396.98,173.90 396.62,172.60 397.93,172.25" fill="#888888"/>
<ellipse cx="393.33" cy="165.20" rx="1.55" ry="1.9" fill="none" stroke="#808080" stroke-width="0.85"/>
<ellipse cx="398.43" cy="165.20" rx="1.55" ry="1.9" fill="none" stroke="#808080" stroke-width="0.85"/>
<polygon points="392.88,214.20 393.83,215.15 395.13,215.50 394.78,216.80 395.13,218.10 393.83,218.45 392.88,219.40 391.93,218.45 390.62,218.10 390.98,216.80 390.62,215.50 391.93,215.15" fill="#888888"/>
<polygon points="398.88,214.20 399.83,215.15 401.13,215.50 400.78,216.80 401.13,218.10 399.83,218.45 398.88,219.40 397.93,218.45 396.62,218.10 396.98,216.80 396.62,215.50 397.93,215.15" fill="#888888"/>
<polygon points="403.91,173.20 404.86,174.15 406.16,174.50 405.81,175.80 406.16,177.10 404.86,177.45 403.91,178.40 402.96,177.45 401.66,177.10 402.01,175.80 401.66,174.50 402.96,174.15" fill="#888888"/>
<polygon points="409.91,173.20 410.86,174.15 412.16,174.50 411.81,175.80 412.16,177.10 410.86,177.45 409.91,178.40 408.96,177.45 407.66,177.10 408.01,175.80 407.66,174.50 408.96,174.15" fill="#888888"/>
<ellipse cx="404.36" cy="168.70" rx="1.55" ry="1.9" fill="none" stroke="#808080" stroke-width="0.85"/>
<ellipse cx="409.46" cy="168.70" rx="1.55" ry="1.9" fill="none" stroke="#808080" stroke-width="0.85"/>
<polygon points="414.94,178.50 415.89,179.45 417.19,179.80 416.84,181.10 417.19,182.40 415.89,182.75 414.94,183.70 413.99,182.75 412.69,182.40 413.04,181.10 412.69,179.80 413.99,179.45" fill="#888888"/>
<polygon points="420.94,178.50 421.89,179.45 423.19,179.80 422.84,181.10 423.19,182.40 421.89,182.75 420.94,183.70 419.99,182.75 418.69,182.40 419.04,181.10 418.69,179.80 419.99,179.45" fill="#888888"/>
<ellipse cx="415.39" cy="171.20" rx="1.55" ry="1.9" fill="none" stroke="#808080" stroke-width="0.85"/>
<ellipse cx="420.49" cy="171.20" rx="1.55" ry="1.9" fill="none" stroke="#808080" stroke-width="0.85"/>
<path d="M261.2,15.5H289.6" stroke="#808080" stroke-width="0.9"/>
<rect x="272.20" y="12.40" width="6.4" height="6.4" fill="#000"/>
<path d="M261.2,33.5H289.6" stroke="#ff8080" stroke-width="0.9"/>
<circle cx="275.40" cy="33.50" r="3.5" fill="#ff0000"/>
<path d="M261.2,51.5H289.6" stroke="#c8a0dc" stroke-width="0.9"/>
<path d="M271.20,55.00 L279.60,55.00 L275.40,47.60 Z" fill="#800080"/>
<path d="M261.2,88.5H289.6" stroke="#ff9a40" stroke-width="0.9"/>
<polygon points="275.40,84.70 276.43,87.28 279.20,87.46 277.06,89.24 277.75,91.94 275.40,90.45 273.05,91.94 273.74,89.24 271.60,87.46 274.37,87.28" fill="#ff8000"/>
<text x="293.3" y="19.8" font-size="12.9" xml:space="preserve">vehicle  + vehicle (<tspan font-style="italic" text-decoration="underline">group a</tspan>)</text>
<text x="293.3" y="37.7" font-size="12.9">tramadol 20 mg kg<tspan dy="-5" font-size="7.7">-1</tspan><tspan dy="5"> + vehicle (</tspan><tspan font-style="italic" text-decoration="underline">group e</tspan>)</text>
<text x="293.3" y="55.5" font-size="12.9">tramadol 20 mg kg<tspan dy="-5" font-size="7.7">-1</tspan><tspan dy="5"> + PEA 30 mg kg</tspan><tspan dy="-5" font-size="7.7">-1</tspan></text>
<text x="261.5" y="74.8" font-size="12.9">+ increasing acute PEA (60 - 120 mg kg<tspan dy="-5" font-size="7.7">-1</tspan><tspan dy="5">) (</tspan><tspan font-style="italic" text-decoration="underline">group f</tspan>)</text>
<text x="293.3" y="92.5" font-size="12.9">tramadol 20 mg kg<tspan dy="-5" font-size="7.7">-1</tspan><tspan dy="5"> + PEA 30 mg kg</tspan><tspan dy="-5" font-size="7.7">-1</tspan><tspan dy="5"> (</tspan><tspan font-style="italic" text-decoration="underline">group g</tspan>)</text>
<text y="271.7" font-size="12"><tspan x="123.8">beginning</tspan><tspan x="176.0">of</tspan><tspan x="190.3">increasing</tspan><tspan x="243.8">acute</tspan><tspan x="273.7">PEA</tspan><tspan x="299.7">in</tspan><tspan x="311.8">group</tspan><tspan x="344.8">f</tspan></text>
<path d="M198,274.8V294.5" stroke="#ff0000" stroke-width="1.6"/>
<path d="M195.2,290.2L198,295.4L200.8,290.2" stroke="#ff0000" stroke-width="1.9" fill="none" stroke-linejoin="miter"/>
<text x="232.8" y="341.8" font-size="15.4" fill="#ff0000">tramadol administration</text>
<path d="M149.3,347.5H456" stroke="#ff0000" stroke-width="1.3"/>
<text x="219.2" y="362.3" font-size="15.4">PEA administration</text>
<path d="M116.9,368.3H456" stroke="#000" stroke-width="1.4"/>
</svg></body></html>
